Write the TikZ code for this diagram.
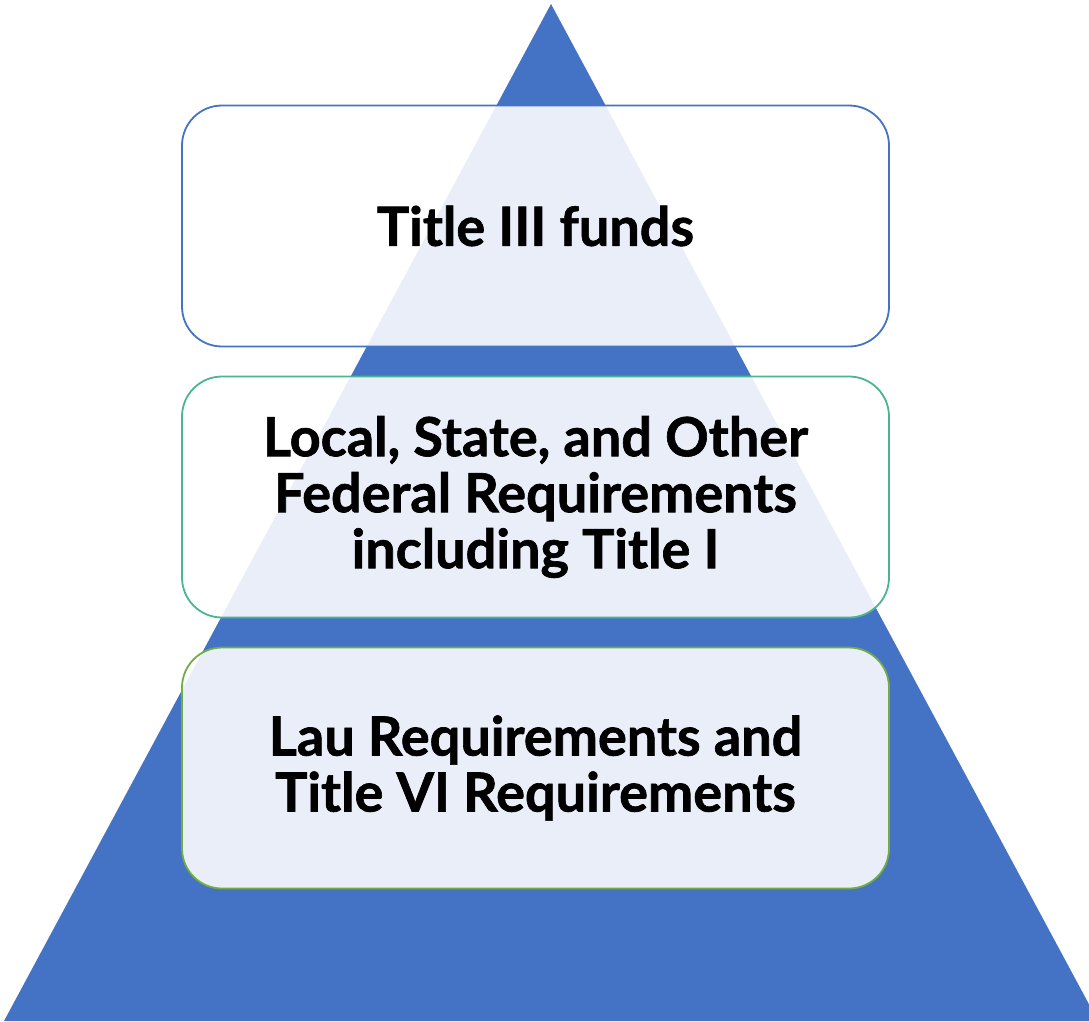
\documentclass[tikz,border=0pt]{standalone}
\usepackage{fontspec}
\setmainfont{Lato}[BoldFont={Lato Bold}, BoldFeatures={FakeBold=1.2}]
\definecolor{triblue}{HTML}{4472C4}
\definecolor{tealgreen}{HTML}{4BB58F}
\definecolor{leafgreen}{HTML}{70AD47}
\tikzset{
  tier/.style={draw, line width=1.8pt, rounded corners=40pt, fill=white, fill opacity=0.885, text opacity=1,
    minimum width=707pt, minimum height=241pt, align=center, text=black,
    font=\fontsize{54}{56}\selectfont\bfseries, inner sep=0pt}
}
\begin{document}
\begin{tikzpicture}[x=1pt,y=-1pt]
\useasboundingbox (0,0) rectangle (1089,1021);
\clip (0,0) rectangle (1089,1021);
\coordinate (apex) at (551,4);
\coordinate (bl) at (4,1021);
\coordinate (br) at (1098,1021);
\fill[triblue] (apex) -- (br) -- (bl) -- cycle;
\node[tier, draw=triblue] (t1) at (535.5,226) {Title III funds};
\node[tier, draw=tealgreen] (t2) at (535.5,497) {Local, State, and Other\\Federal Requirements\\including Title I};
\node[tier, draw=leafgreen] (t3) at (535.5,768) {Lau Requirements and\\Title VI Requirements};
\end{tikzpicture}
\end{document}
